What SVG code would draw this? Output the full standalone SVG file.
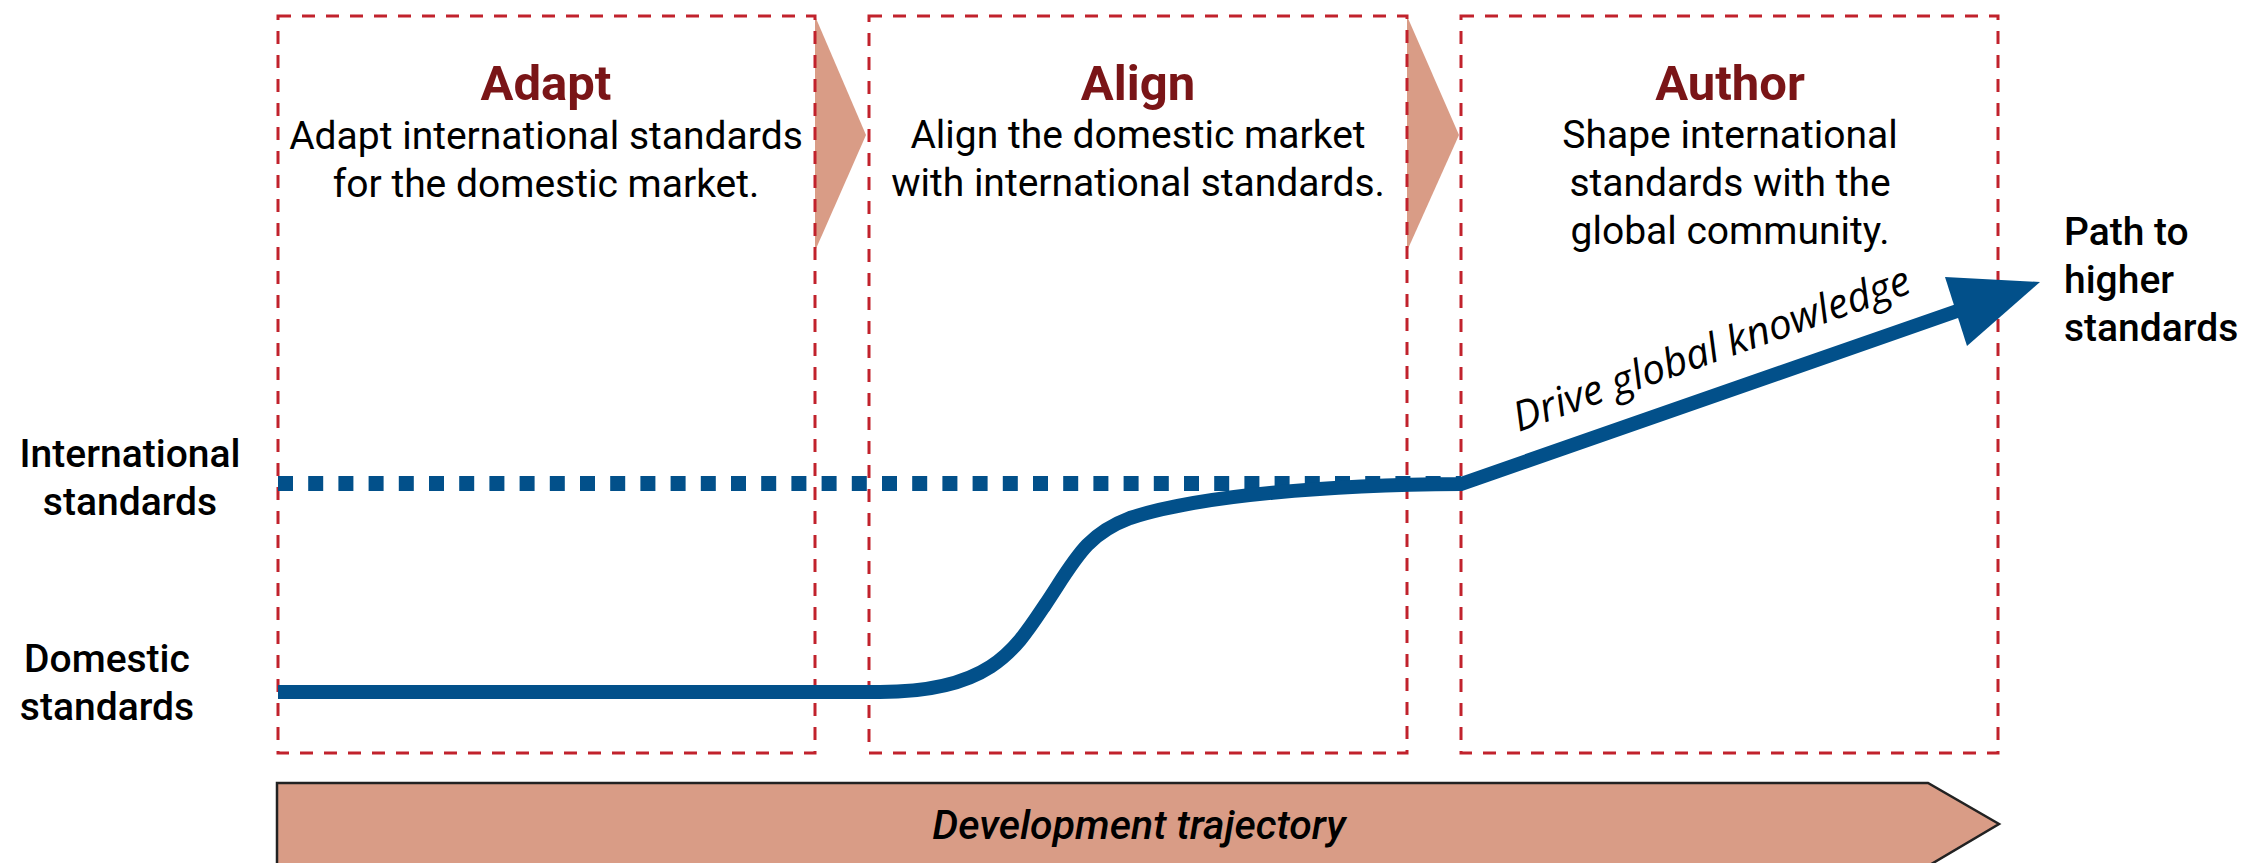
<svg xmlns="http://www.w3.org/2000/svg" width="2249" height="863" viewBox="0 0 2249 863">
<style>
.box{fill:none;stroke:#C1222C;stroke-width:3;stroke-dasharray:13 11}
.chev{fill:#D99C86}
.title{font-family:Roboto,"Liberation Sans",sans-serif;font-weight:bold;font-size:49px;fill:#7A1517;text-anchor:middle}
.desc{font-family:Roboto,"Liberation Sans",sans-serif;font-size:39px;fill:#000;text-anchor:middle}
.lab{font-family:Roboto,"Liberation Sans",sans-serif;font-weight:500;font-size:39px;fill:#000}
.blue{fill:none;stroke:#02508A}
</style>
<g id="chevrons">
<polygon class="chev" points="815,16 866,135 815,251"/>
<polygon class="chev" points="1407,16 1459,135 1407,251"/>
</g>
<g id="adapt">
<rect class="box" x="278" y="16" width="537" height="737"/>
<text class="title" x="546" y="100">Adapt</text>
<text class="desc" x="546" y="149">Adapt international standards</text>
<text class="desc" x="546" y="197">for the domestic market.</text>
</g>
<g id="align">
<rect class="box" x="869" y="16" width="538" height="737"/>
<text class="title" x="1138" y="100">Align</text>
<text class="desc" x="1138" y="148">Align the domestic market</text>
<text class="desc" x="1138" y="196">with international standards.</text>
</g>
<g id="author">
<rect class="box" x="1461" y="16" width="537" height="737"/>
<text class="title" x="1730" y="100">Author</text>
<text class="desc" x="1730" y="148">Shape international</text>
<text class="desc" x="1730" y="196">standards with the</text>
<text class="desc" x="1730" y="244">global community.</text>
</g>
<g id="labels">
<text class="lab" x="130" y="467" text-anchor="middle">International</text>
<text class="lab" x="130" y="515" text-anchor="middle">standards</text>
<text class="lab" x="107" y="672" text-anchor="middle">Domestic</text>
<text class="lab" x="107" y="720" text-anchor="middle">standards</text>
<text class="lab" x="2064" y="245">Path to</text>
<text class="lab" x="2064" y="293">higher</text>
<text class="lab" x="2064" y="341">standards</text>
</g>
<g id="connectors">
<line class="blue" x1="278" y1="483.5" x2="1461" y2="483.5" stroke-width="15" stroke-dasharray="15 15.2"/>
<path class="blue" stroke-width="14" d="M278 692 H880 C990 692 1015 650 1045 605 S1085 535 1130 518 C1200 495 1330 485 1461 484 L1960 310"/>
<polygon fill="#02508A" points="2040,282 1945,277 1967,346"/>
<text x="1716" y="362" transform="rotate(-19.5 1716 362)" font-family="'Open Sans','DejaVu Sans',sans-serif" font-style="italic" font-size="41" text-anchor="middle" fill="#000">Drive global knowledge</text>
</g>
<g id="trajectory">
<polygon points="277,783 1928,783 1999,824 1928,866 277,866" fill="#D99C86" stroke="#222" stroke-width="2.5"/>
<text x="1139" y="839" font-family="Roboto,'Liberation Sans',sans-serif" font-weight="500" font-style="italic" font-size="41" text-anchor="middle" fill="#000">Development trajectory</text>
</g>
</svg>
